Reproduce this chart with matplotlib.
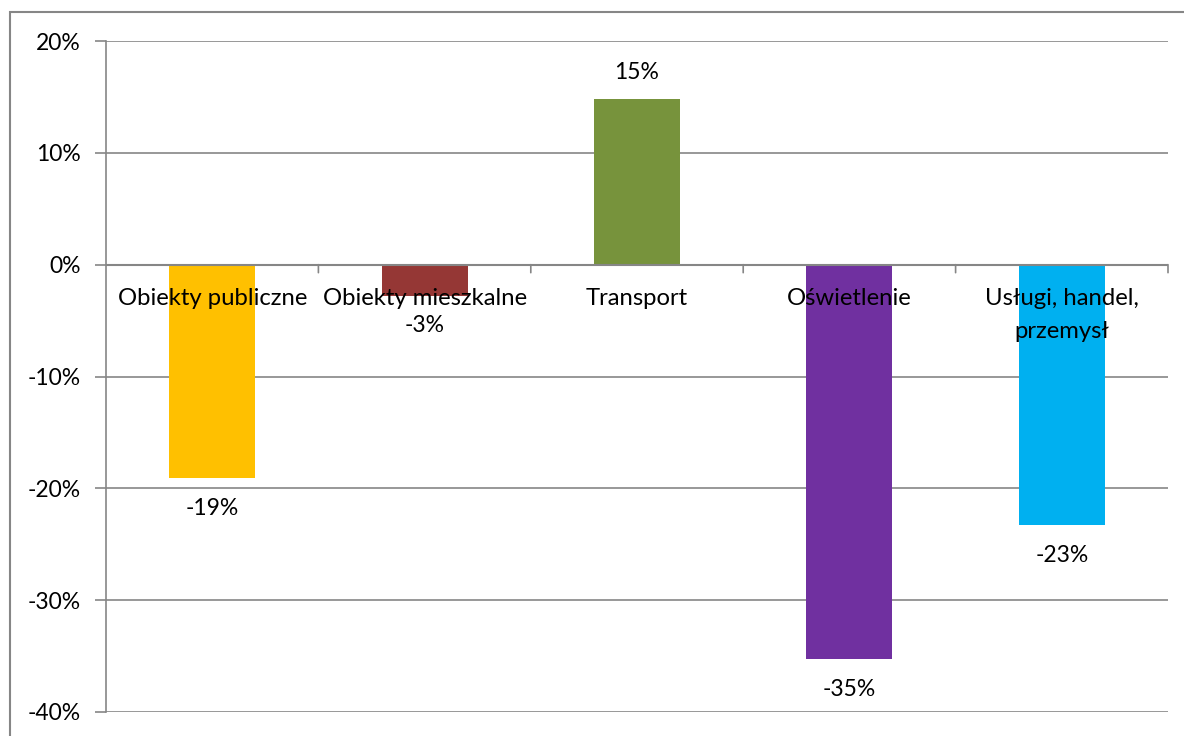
import matplotlib.pyplot as plt
from matplotlib.patches import Rectangle
from matplotlib.ticker import FuncFormatter, MultipleLocator

categories = ["Obiekty publiczne", "Obiekty mieszkalne", "Transport",
              "Oświetlenie", "Usługi, handel,\nprzemysł"]
values = [-19.1, -2.8, 14.85, -35.3, -23.3]
value_labels = ["-19%", "-3%", "15%", "-35%", "-23%"]
colors = ["#FFC000", "#953735", "#77933C", "#7030A0", "#00B0F0"]

plt.rcParams['font.family'] = ['Lato', 'DejaVu Sans']
grid_c = "#868686"
fs = 16.5
W, H = 1184, 736

fig = plt.figure(figsize=(W / 100, H / 100), dpi=100)
ax = fig.add_axes([106 / W, 1 - 712 / H, (1168 - 106) / W, (712 - 41) / H])

x = range(len(categories))
ax.bar(x, values, width=0.405, color=colors, zorder=3)

ax.set_xlim(-0.5, len(categories) - 0.5)
ax.set_ylim(-40, 20)
ax.yaxis.set_major_locator(MultipleLocator(10))
ax.yaxis.set_major_formatter(FuncFormatter(lambda v, p: f"{v:.0f}%"))
ax.grid(axis='y', color=grid_c, linewidth=1.2, zorder=0)
ax.tick_params(axis='y', length=8, width=1.2, color=grid_c, labelsize=fs, pad=10)
ax.set_xticks([])
for s in ["top", "right", "bottom"]:
    ax.spines[s].set_visible(False)
ax.spines["left"].set_color(grid_c)
ax.spines["left"].set_linewidth(1.2)

# zero axis with ticks at category boundaries
ax.axhline(0, color=grid_c, linewidth=1.5, zorder=4)
for b in range(1, len(categories) + 1):
    ax.annotate("", xy=(b - 0.5, 0), xycoords='data',
                xytext=(0, -8), textcoords='offset pixels',
                arrowprops=dict(arrowstyle='-', color=grid_c, lw=1.2,
                                shrinkA=0, shrinkB=0))

for i, cat in enumerate(categories):
    ax.annotate(cat, (i, 0), xytext=(0, -23), textcoords='offset pixels',
                ha='center', va='top', fontsize=17.2, zorder=5,
                linespacing=1.75)

for i, (v, lab) in enumerate(zip(values, value_labels)):
    off = 26 if v > 0 else -30
    ax.annotate(lab, (i, v), xytext=(0, off), textcoords='offset pixels',
                ha='center', va='center', fontsize=fs, zorder=5)

fig.patches.append(Rectangle((10 / W, -0.01), (W - 8) / W, 1 - 12 / H + 0.01,
                             transform=fig.transFigure, fill=False,
                             edgecolor=grid_c, linewidth=1.5))

fig.savefig("out.png", dpi=100)
